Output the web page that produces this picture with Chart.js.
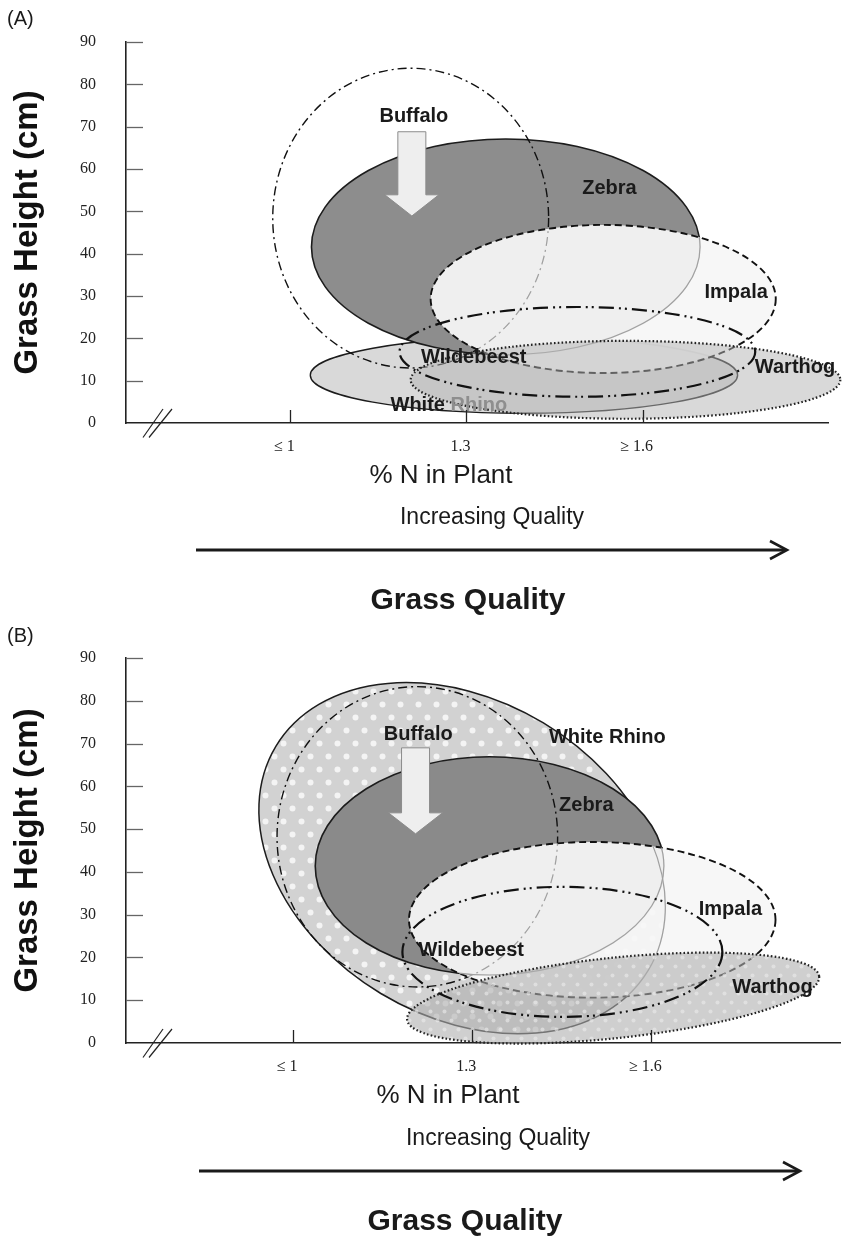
<!DOCTYPE html>
<html>
<head>
<meta charset="utf-8">
<script src="https://cdn.jsdelivr.net/npm/chart.js@4.4.1/dist/chart.umd.min.js"></script>
<style>
html,body{margin:0;padding:0;background:#fff;}
#wrap{position:relative;width:843px;height:1239px;overflow:hidden;}
.panel{position:absolute;left:0;width:843px;}
#pa{top:0;height:620px;}
#pb{top:620px;height:619px;}
</style>
</head>
<body>
<div id="wrap">
  <div class="panel" id="pa"><canvas id="ca"></canvas></div>
  <div class="panel" id="pb"><canvas id="cb"></canvas></div>
</div>
<script>
// ---------------- DATA ----------------
const species = ['Buffalo', 'Zebra', 'Impala', 'Wildebeest', 'White Rhino', 'Warthog'];

const xTickValues = [1.0, 1.3, 1.6];
const xTickLabels = ['≤ 1', '1.3', '≥ 1.6'];
const yTickValues = [0, 10, 20, 30, 40, 50, 60, 70, 80, 90];
const yTickLabels = ['0', '10', '20', '30', '40', '50', '60', '70', '80', '90'];
const xRange = [0.72, 1.916];
const yRange = [0, 90];

// Panel A: niche ellipses (centre and half-extent in %N and cm, tilt in degrees)
const centerN_A      = [1.205, 1.367, 1.533, 1.489, 1.398, 1.571];
const centerHeight_A = [48.4, 41.6, 29.3, 16.8, 11.3, 10.2];
const spreadN_A      = [0.235, 0.331, 0.294, 0.303, 0.364, 0.366];
const spreadHeight_A = [35.4, 25.5, 17.5, 10.6, 9.0, 9.2];
const tilt_A         = [0, 0, 0, 0, 0, 0];
const labelN_A       = [1.2105, 1.5437, 1.7595, 1.3125, 1.270, 1.8598];
const labelHeight_A  = [72.3, 55.5, 30.9, 15.4, 4.25, 13.2];

// Panel B
const centerN_B      = [1.208, 1.329, 1.501, 1.451, 1.283, 1.536];
const centerHeight_B = [48.2, 41.4, 28.8, 21.3, 43.2, 10.5];
const spreadN_B      = [0.235, 0.292, 0.307, 0.268, 0.364, 0.347];
const spreadHeight_B = [35.1, 25.5, 18.2, 15.2, 36.9, 9.4];
const tilt_B         = [0, 0, 0, 0, 31, -6];
const labelN_B       = [1.2095, 1.491, 1.7324, 1.2983, 1.5262, 1.8028];
const labelHeight_B  = [72.2, 55.6, 31.1, 21.7, 71.5, 12.9];

// Buffalo arrow (A, B): x position, top, head base, tip (cm)
const arrowN      = [1.207, 1.205];
const arrowTopH   = [68.8, 69.0];
const arrowBaseH  = [53.9, 53.8];
const arrowTipH   = [48.9, 48.9];

// ---------------- STYLE / LAYOUT ----------------
function dotPattern(ctx, bg, dot, w, h, r) {
  const c = document.createElement('canvas'); c.width = w; c.height = h;
  const g = c.getContext('2d');
  g.fillStyle = bg; g.fillRect(0, 0, w, h);
  g.fillStyle = dot;
  g.beginPath(); g.arc(w / 4, h / 4, r, 0, Math.PI * 2); g.fill();
  g.beginPath(); g.arc(3 * w / 4, 3 * h / 4, r, 0, Math.PI * 2); g.fill();
  return ctx.createPattern(c, 'repeat');
}

const stylesA = {
  'Buffalo':     { stroke: '#111', width: 1.4, dash: [9, 4, 2, 4] },
  'Zebra':       { fill: '#8d8d8d', stroke: '#1c1c1c', width: 1.6 },
  'Impala':      { fill: 'rgba(246,246,246,0.93)', stroke: '#111', width: 1.9, dash: [7, 4] },
  'Wildebeest':  { stroke: '#111', width: 2.2, dash: [15, 5, 2, 4, 2, 5] },
  'White Rhino': { fill: 'rgba(215,215,215,0.95)', stroke: '#1c1c1c', width: 1.4 },
  'Warthog':     { fill: 'rgba(180,180,180,0.5)', stroke: '#222', width: 2.2, dash: [1.6, 2.2] }
};
const stylesB = {
  'Buffalo':     { stroke: '#111', width: 1.4, dash: [9, 4, 2, 4] },
  'Zebra':       { fill: '#8a8a8a', stroke: '#1c1c1c', width: 1.6 },
  'Impala':      { fill: 'rgba(246,246,246,0.93)', stroke: '#111', width: 1.9, dash: [7, 4] },
  'Wildebeest':  { stroke: '#111', width: 2.2, dash: [15, 5, 2, 4, 2, 5] },
  'White Rhino': { fill: ctx => dotPattern(ctx, '#d2d2d2', '#f4f4f4', 18, 26, 3), stroke: '#1c1c1c', width: 1.5 },
  'Warthog':     { fill: ctx => dotPattern(ctx, 'rgba(175,175,175,0.6)', 'rgba(235,235,235,0.6)', 14, 18, 2), stroke: '#222', width: 2.2, dash: [1.6, 2.2] }
};

const panels = [
  { tag: 'A', canvas: 'ca', padTop: 42, padRight: 15, padBottom: 157,
    centerN: centerN_A, centerH: centerHeight_A, spreadN: spreadN_A, spreadH: spreadHeight_A, tilt: tilt_A,
    labelN: labelN_A, labelH: labelHeight_A, styles: stylesA,
    order: ['White Rhino', 'Zebra', 'Buffalo', 'Impala', 'Warthog', 'Wildebeest'],
    ghosts: ['Zebra', 'Buffalo'], twoToneRhino: true,
    text: { letterY: 19, nTitle: [441, 476], incr: [492, 518], arrow: [196, 787, 550], gq: [468, 601] } },
  { tag: 'B', canvas: 'cb', padTop: 38, padRight: 3, padBottom: 156,
    centerN: centerN_B, centerH: centerHeight_B, spreadN: spreadN_B, spreadH: spreadHeight_B, tilt: tilt_B,
    labelN: labelN_B, labelH: labelHeight_B, styles: stylesB,
    order: ['White Rhino', 'Zebra', 'Buffalo', 'Impala', 'Warthog', 'Wildebeest'],
    ghosts: ['Zebra', 'Buffalo', 'White Rhino'], twoToneRhino: false,
    text: { letterY: 16, nTitle: [448, 476], incr: [498, 519], arrow: [199, 800, 551], gq: [465, 602] } }
];

// ---------------- DRAWING ----------------
function figurePlugin(p, k) {
  return {
    id: 'fig' + p.tag,
    afterDatasetsDraw(chart) {
      const ctx = chart.ctx, xs = chart.scales.x, ys = chart.scales.y;
      const geom = i => {
        const cx = xs.getPixelForValue(p.centerN[i]);
        const cy = ys.getPixelForValue(p.centerH[i]);
        return { cx, cy,
          rx: Math.abs(xs.getPixelForValue(p.centerN[i] + p.spreadN[i]) - cx),
          ry: Math.abs(ys.getPixelForValue(p.centerH[i] + p.spreadH[i]) - cy),
          rot: p.tilt[i] * Math.PI / 180 };
      };
      const path = i => { const g = geom(i); ctx.beginPath(); ctx.ellipse(g.cx, g.cy, g.rx, g.ry, g.rot, 0, Math.PI * 2); };
      const idx = n => species.indexOf(n);

      p.order.forEach(name => {
        const i = idx(name), st = p.styles[name];
        ctx.save();
        path(i);
        if (st.fill) { ctx.fillStyle = typeof st.fill === 'function' ? st.fill(ctx) : st.fill; ctx.fill(); }
        ctx.setLineDash(st.dash || []);
        ctx.lineWidth = st.width; ctx.strokeStyle = st.stroke; ctx.stroke();
        ctx.restore();
        if (name === 'Impala') {
          p.ghosts.forEach(gn => {
            const gi = idx(gn), gs = p.styles[gn];
            ctx.save();
            path(i); ctx.clip();
            path(gi);
            ctx.setLineDash(gs.dash || []);
            ctx.lineWidth = 1.2; ctx.strokeStyle = '#a0a0a0'; ctx.stroke();
            ctx.restore();
          });
        }
      });

      // Buffalo arrow
      const ax = xs.getPixelForValue(arrowN[k]);
      const yT = ys.getPixelForValue(arrowTopH[k]);
      const yB = ys.getPixelForValue(arrowBaseH[k]);
      const yP = ys.getPixelForValue(arrowTipH[k]);
      const sw = 14, hw = 27;
      ctx.save();
      ctx.beginPath();
      ctx.moveTo(ax - sw, yT); ctx.lineTo(ax + sw, yT); ctx.lineTo(ax + sw, yB);
      ctx.lineTo(ax + hw, yB); ctx.lineTo(ax, yP); ctx.lineTo(ax - hw, yB);
      ctx.lineTo(ax - sw, yB); ctx.closePath();
      ctx.fillStyle = '#eeeeee'; ctx.fill();
      ctx.lineWidth = 1; ctx.strokeStyle = '#8c8c8c'; ctx.stroke();
      ctx.restore();

      // species labels
      ctx.save();
      ctx.font = 'bold 20px "Liberation Sans", Arial, sans-serif';
      ctx.textBaseline = 'middle';
      species.forEach((name, i) => {
        const lx = xs.getPixelForValue(p.labelN[i]);
        const ly = ys.getPixelForValue(p.labelH[i]);
        if (name === 'White Rhino' && p.twoToneRhino) {
          const w1 = ctx.measureText('White ').width, w = ctx.measureText(name).width;
          ctx.textAlign = 'left';
          ctx.fillStyle = '#1a1a1a'; ctx.fillText('White ', lx - w / 2, ly);
          ctx.fillStyle = '#8e8e8e'; ctx.fillText('Rhino', lx - w / 2 + w1, ly);
        } else {
          ctx.textAlign = 'center'; ctx.fillStyle = '#1a1a1a';
          ctx.fillText(name, lx, ly);
        }
      });
      ctx.restore();
    },
    afterDraw(chart) {
      const ctx = chart.ctx, xs = chart.scales.x, ys = chart.scales.y, a = chart.chartArea;
      ctx.save();
      // inner tick marks
      ctx.lineWidth = 1.3;
      ctx.strokeStyle = '#666';
      yTickValues.forEach(v => {
        if (v === 0) return;
        const y = Math.round(ys.getPixelForValue(v)) + 0.5;
        ctx.beginPath(); ctx.moveTo(a.left, y); ctx.lineTo(a.left + 17, y); ctx.stroke();
      });
      ctx.strokeStyle = '#222';
      xTickValues.forEach(v => {
        const x = Math.round(xs.getPixelForValue(v)) + 0.5;
        ctx.beginPath(); ctx.moveTo(x, a.bottom); ctx.lineTo(x, a.bottom - 13); ctx.stroke();
      });
      // axis break marks
      ctx.lineWidth = 1.2; ctx.strokeStyle = '#222';
      [[17, 37], [23, 46]].forEach(([x0, x1]) => {
        ctx.beginPath(); ctx.moveTo(a.left + x0, a.bottom + 14.5); ctx.lineTo(a.left + x1, a.bottom - 14); ctx.stroke();
      });
      // texts
      const t = p.text;
      ctx.fillStyle = '#1a1a1a';
      ctx.textBaseline = 'middle';
      ctx.textAlign = 'left';
      ctx.font = '20px "Liberation Sans", Arial, sans-serif';
      ctx.fillText('(' + p.tag + ')', 7, t.letterY);
      ctx.textAlign = 'center';
      ctx.font = '26px "Liberation Sans", Arial, sans-serif';
      ctx.fillText('% N in Plant', t.nTitle[0], t.nTitle[1]);
      ctx.font = '23px "Liberation Sans", Arial, sans-serif';
      ctx.fillText('Increasing Quality', t.incr[0], t.incr[1]);
      ctx.font = 'bold 30px "Liberation Sans", Arial, sans-serif';
      ctx.fillText('Grass Quality', t.gq[0], t.gq[1]);
      // quality arrow
      const [x1, x2, ya] = t.arrow;
      ctx.lineWidth = 3; ctx.strokeStyle = '#1a1a1a';
      ctx.beginPath(); ctx.moveTo(x1, ya); ctx.lineTo(x2 - 1, ya); ctx.stroke();
      ctx.lineWidth = 2.6;
      ctx.beginPath(); ctx.moveTo(x2 - 17, ya - 9); ctx.lineTo(x2, ya); ctx.lineTo(x2 - 17, ya + 9); ctx.stroke();
      ctx.restore();
    }
  };
}

panels.forEach((p, k) => {
  new Chart(document.getElementById(p.canvas), {
    type: 'scatter',
    data: { datasets: [] },
    options: {
      responsive: true,
      maintainAspectRatio: false,
      animation: false,
      events: [],
      layout: { padding: { top: p.padTop, right: p.padRight, bottom: p.padBottom, left: 0 } },
      plugins: { legend: { display: false }, tooltip: { enabled: false }, title: { display: false } },
      scales: {
        x: {
          type: 'linear', min: xRange[0], max: xRange[1],
          afterBuildTicks: s => { s.ticks = xTickValues.map(v => ({ value: v })); },
          afterFit: s => { s.height = 40; },
          grid: { display: false },
          border: { display: true, color: '#222', width: 1.6 },
          ticks: {
            autoSkip: false, maxRotation: 0, minRotation: 0, padding: 6, labelOffset: -6,
            color: '#222', font: { family: '"Liberation Serif", "Times New Roman", serif', size: 16 },
            callback: (v, i) => xTickLabels[i]
          },
          title: { display: false }
        },
        y: {
          type: 'linear', min: yRange[0], max: yRange[1],
          afterBuildTicks: s => { s.ticks = yTickValues.map(v => ({ value: v })); },
          afterFit: s => { s.width = 126; },
          grid: { display: false },
          border: { display: true, color: '#222', width: 1.6 },
          ticks: {
            padding: 22, color: '#222',
            font: { family: '"Liberation Serif", "Times New Roman", serif', size: 16 },
            callback: (v, i) => yTickLabels[i]
          },
          title: {
            display: true, text: 'Grass Height (cm)', color: '#111',
            font: { family: '"Liberation Sans", Arial, sans-serif', size: 33, weight: 'bold' },
            padding: { top: 8, bottom: 0 }
          }
        }
      }
    },
    plugins: [figurePlugin(p, k)]
  });
});
</script>
</body>
</html>
